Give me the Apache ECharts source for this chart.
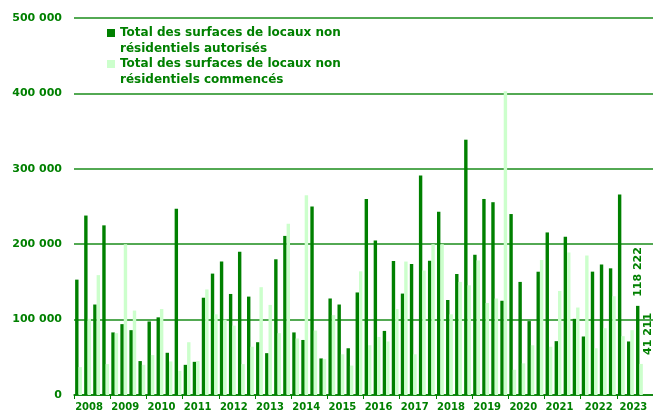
<!DOCTYPE html>
<html><head><meta charset="utf-8">
<script src="https://cdn.jsdelivr.net/npm/echarts@6/dist/echarts.min.js"></script>
<style>html,body{margin:0;padding:0;background:#fff}#c{width:653px;height:412px}</style>
</head><body><div id="c"></div>
<script>
const years = ['2008','2009','2010','2011','2012','2013','2014','2015','2016','2017','2018','2019','2020','2021','2022','2023'];
const quarters = ['T1','T2','T3','T4'];
const nameAutorises = 'Total des surfaces de locaux non\nrésidentiels autorisés';
const nameCommences = 'Total des surfaces de locaux non\nrésidentiels commencés';
const autorises = [
  153000, 238000, 120000, 225000,
  83000, 94000, 86000, 45000,
  97500, 103000, 56000, 247000,
  40000, 44000, 129000, 161000,
  177000, 134000, 190000, 130500,
  70000, 55500, 180000, 211000,
  83000, 73000, 250000, 48500,
  128000, 120000, 62000, 136000,
  260000, 205000, 85000, 177700,
  134500, 173700, 291000, 178000,
  243000, 126000, 160500, 338600,
  186000, 260000, 255700, 125000,
  240000, 150000, 98000, 163500,
  215600, 71400, 210000, 101000,
  77600, 163600, 173000, 168000,
  266000, 71000, 118222
];
const commences = [
  37000, 101000, 159000, 41000,
  82000, 200000, 112000, 40000,
  53000, 114000, 44500, 32000,
  70000, 45000, 140000, 107000,
  100000, 92000, 41000, 64000,
  143000, 119500, 82000, 227000,
  75000, 265000, 85500, 47600,
  106000, 54000, 39000, 164000,
  66000, 77000, 71000, 114000,
  177000, 54000, 165000, 200000,
  200000, 107000, 150000, 145500,
  178500, 122000, 128000, 403000,
  33500, 42000, 66000, 179000,
  64000, 138000, 189000, 116000,
  185000, 62000, 88600, 131000,
  78000, 86000, 41211
];
const yMax = 500000, yStep = 100000;

const GREEN = '#008000', LIGHT = '#ccffcc', FONT = 'DejaVu Sans';
const categories = [];
years.forEach(y => quarters.forEach(q => categories.push(y + ' ' + q)));
const fmt = v => v === 0 ? '0' : String(Math.round(v)).replace(/\B(?=(\d{3})+(?!\d))/g, ' ');

function withLastLabel(arr, extra) {
  return arr.map((v, i) => i === arr.length - 1 ? {
    value: v,
    label: Object.assign({
      show: true, position: 'top', rotate: 90, align: 'left', verticalAlign: 'middle',
      color: GREEN, fontFamily: FONT, fontWeight: 'bold', fontSize: 11,
      formatter: p => fmt(p.value)
    }, extra)
  } : v);
}

const yearStyle = (pad) => ({color: GREEN, fontFamily: FONT, fontWeight: 'bold', fontSize: 10, padding: [0, 0, 0, pad]});

const chart = echarts.init(document.getElementById('c'), null, {renderer: 'canvas'});
chart.setOption({
  animation: false,
  backgroundColor: '#fff',
  grid: {left: 74, right: 0, top: 18, bottom: 16, containLabel: false},
  legend: {
    orient: 'vertical', left: 107, top: 25, padding: 0,
    itemWidth: 8, itemHeight: 24, itemGap: -1,
    icon: 'path://M0,0H8V8H0Z M0,24H8V24H0Z',
    data: [nameAutorises, nameCommences],
    textStyle: {color: GREEN, fontFamily: FONT, fontWeight: 'bold', fontSize: 12, lineHeight: 16}
  },
  xAxis: {
    type: 'category', data: categories, boundaryGap: true,
    axisLine: {show: true, lineStyle: {color: GREEN, width: 1.5}},
    axisTick: {show: true, length: 4, interval: (i) => i % 4 === 0, lineStyle: {color: GREEN, width: 1}},
    axisLabel: {
      show: true, interval: (i) => i % 4 === 1, margin: 7,
      formatter: (v) => {
        const y = v.split(' ')[0];
        if (y === '2023') return '{c|' + y + '}';
        if (y === '2022') return '{b|' + y + '}';
        return '{a|' + y + '}';
      },
      rich: {a: yearStyle(3), b: yearStyle(9), c: yearStyle(6)}
    },
    splitLine: {show: false}
  },
  yAxis: {
    type: 'value', min: 0, max: yMax, interval: yStep,
    axisLine: {show: false}, axisTick: {show: false},
    axisLabel: {color: GREEN, fontFamily: FONT, fontWeight: 'bold', fontSize: 11, margin: 12, formatter: fmt},
    splitLine: {show: true, lineStyle: {color: '#1a8c1a', width: 1.5}}
  },
  series: [
    {name: nameAutorises, type: 'bar', data: withLastLabel(autorises, {distance: 9}),
     barWidth: 3.4, barGap: '0%', itemStyle: {color: GREEN}},
    {name: nameCommences, type: 'bar', data: withLastLabel(commences, {distance: 9, offset: [0, 7]}),
     barWidth: 3.4, barGap: '0%', itemStyle: {color: LIGHT}}
  ]
});
</script>
</body></html>
